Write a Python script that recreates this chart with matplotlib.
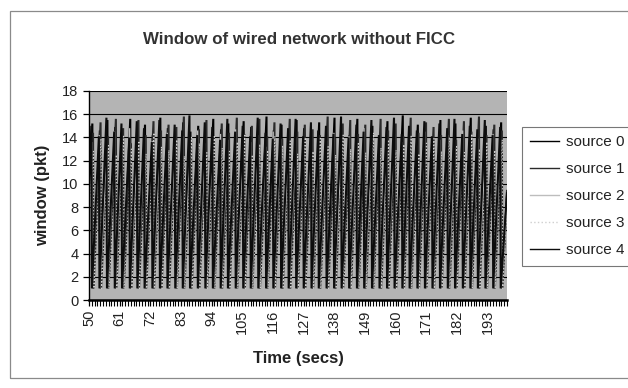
import matplotlib.pyplot as plt
from matplotlib.patches import Rectangle

plt.rcParams["font.family"] = ["Liberation Sans", "DejaVu Sans"]

# times (secs) where the five synchronised TCP windows collapse back to 1 pkt
drops = [51.2, 53.9, 56.6, 59.4, 62.0, 64.8, 67.5, 70.1, 72.9, 75.6, 78.3,
         81.1, 83.8, 86.4, 89.2, 91.9, 94.6, 97.4, 100.0, 102.8, 105.5, 108.2,
         110.9, 113.7, 116.3, 119.1, 121.8, 124.5, 127.2, 130.0, 132.6, 135.4, 138.1,
         140.8, 143.5, 146.3, 148.9, 151.7, 154.4, 157.1, 159.8, 162.6, 165.2,
         168.0, 170.7, 173.4, 176.1, 178.9, 181.5, 184.3, 187.0, 189.7, 192.4,
         195.2, 197.9]

# per-source lag of the drop (secs)
lag = [0.0, 0.25, -0.2, 0.4, -0.35]

# window just before each drop (pkt)
peak0 = [15.2, 14.6, 15.5, 14.9, 13.8, 15.6, 14.4, 15.1, 14.2, 15.7, 14.8,
         13.9, 15.3, 14.5, 15.0, 14.1, 15.6, 14.7, 15.2, 13.7, 15.4, 14.9,
         14.3, 15.8, 14.6, 15.1, 14.0, 15.5, 14.8, 13.9, 15.3, 14.4, 15.7,
         14.9, 14.2, 15.6, 14.7, 15.0, 13.8, 15.4, 14.5, 15.9, 14.3, 15.1,
         14.8, 13.6, 15.5, 14.6, 15.2, 14.0, 15.7, 14.4, 15.0, 14.7, 15.3]
peak1 = [14.4, 15.3, 14.1, 15.6, 14.8, 13.5, 15.5, 14.2, 15.4, 14.6, 15.1,
         14.9, 15.8, 13.8, 14.7, 15.5, 14.0, 15.2, 14.4, 15.7, 14.3, 15.0,
         15.6, 14.1, 15.3, 13.9, 15.6, 14.5, 15.1, 14.7, 14.2, 15.8, 14.0,
         15.2, 15.5, 14.3, 15.1, 13.9, 15.6, 14.6, 15.2, 14.1, 15.7, 14.4,
         15.3, 14.9, 14.2, 15.6, 13.8, 15.4, 14.5, 15.8, 14.2, 15.1, 14.6]
peak2 = [13.6, 14.2, 12.9, 14.5, 13.4, 14.8, 13.1, 14.0, 13.7, 12.8, 14.4,
         13.3, 14.1, 12.7, 14.6, 13.5, 13.0, 14.3, 13.8, 14.7, 12.9, 13.6,
         14.2, 13.2, 14.5, 13.9, 12.8, 14.0, 13.4, 14.6, 13.1, 13.7, 14.4,
         12.9, 14.1, 13.5, 14.8, 13.2, 13.9, 12.7, 14.3, 13.6, 14.0, 13.3,
         14.5, 12.9, 13.8, 14.2, 13.1, 14.6, 13.4, 13.9, 12.8, 14.3, 13.7]
peak3 = [12.8, 13.9, 13.3, 12.5, 14.1, 13.0, 13.7, 12.6, 14.4, 13.2, 12.9,
         13.8, 12.4, 14.0, 13.5, 12.7, 14.2, 13.1, 12.8, 13.6, 14.3, 12.5,
         13.4, 12.9, 14.1, 13.3, 13.7, 12.6, 14.0, 12.8, 13.9, 13.2, 12.5,
         14.2, 13.0, 13.6, 12.7, 14.4, 13.1, 13.8, 12.9, 13.4, 14.1, 12.6,
         13.5, 13.9, 12.8, 14.0, 13.2, 12.7, 14.3, 13.0, 13.6, 12.9, 13.8]
peak4 = [15.0, 14.1, 15.7, 14.5, 15.2, 14.0, 15.4, 14.8, 13.6, 15.5, 14.3,
         15.1, 14.6, 15.9, 14.2, 15.3, 14.9, 13.8, 15.6, 14.5, 15.0, 14.1,
         15.7, 14.4, 13.9, 15.2, 14.8, 15.6, 14.1, 15.3, 14.6, 15.0, 14.3,
         15.8, 14.0, 15.1, 14.5, 15.5, 14.2, 14.9, 15.7, 14.3, 15.0, 14.6,
         15.4, 14.1, 15.2, 14.8, 15.6, 14.3, 15.0, 14.7, 15.5, 14.2, 14.9]

# window at the left edge (t=50) and right edge (t=200)
start = [9.5, 8.8, 8.0, 7.6, 9.9]
end = [8.9, 9.4, 7.9, 8.3, 9.2]

sources = ["source 0", "source 1", "source 2", "source 3", "source 4"]
peaks = [peak0, peak1, peak2, peak3, peak4]
colors = ["#000000", "#2a2a2a", "#bdbdbd", "#cfcfcf", "#0d0d0d"]
widths = [1.5, 1.5, 0.9, 0.9, 1.5]
styles = ["-", "-", "-", ":", "-"]

xtick_vals = [50, 61, 72, 83, 94, 105, 116, 127, 138, 149, 160, 171, 182, 193]

fig = plt.figure(figsize=(6.28, 3.88), dpi=100)
ax = fig.add_axes([89 / 628, 1 - 300 / 388, 418 / 628, 209 / 388])
ax.set_facecolor("#b4b4b4")

# outer chart frame, running off the right edge
fig.patches.append(Rectangle((10 / 628, 1 - 378 / 388), 640 / 628, 367 / 388,
                             transform=fig.transFigure, fill=False,
                             edgecolor="#8a8a8a", linewidth=0.9))

for name, pk, lg, col, lw, ls, s0, s1 in zip(sources, peaks, lag, colors, widths,
                                             styles, start, end):
    xs = [50.0]
    ys = [s0]
    for t, p in zip(drops, pk):
        xs += [t + lg, t + lg + 0.2]
        ys += [p, 1.0]
    xs.append(200.0)
    ys.append(s1)
    ax.plot(xs, ys, color=col, linewidth=lw, linestyle=ls, label=name,
            solid_joinstyle="miter")

ax.set_xlim(50, 200)
ax.set_ylim(0, 18)
ax.set_yticks(range(0, 19, 2))
ax.set_xticks(xtick_vals)
ax.set_xticks(range(50, 201), minor=True)
ax.set_xticklabels([str(v) for v in xtick_vals], rotation=90)
ax.yaxis.grid(True, color="black", linewidth=0.8)
ax.set_axisbelow(True)

for side in ["top", "right"]:
    ax.spines[side].set_visible(False)
ax.spines["left"].set_linewidth(1.0)
ax.spines["bottom"].set_linewidth(1.8)
ax.tick_params(axis="both", which="major", direction="out", length=4, width=0.9,
               labelsize=10.5, colors="black", labelcolor="#222222")
ax.tick_params(axis="x", which="minor", direction="out", length=4, width=0.8)
ax.tick_params(axis="x", which="major", pad=3)

ax.set_ylabel("window (pkt)", fontsize=12, fontweight="bold", color="#222222", labelpad=9)
ax.set_xlabel("Time (secs)", fontsize=12, fontweight="bold", color="#222222", labelpad=12)
fig.text(299 / 628, 1 - 40 / 388, "Window of wired network without FICC",
         ha="center", va="center", fontsize=12.2, fontweight="bold", color="#333333")

leg = ax.legend(loc="upper left", bbox_to_anchor=(522 / 628, 1 - 127 / 388),
                bbox_transform=fig.transFigure, fontsize=11, frameon=True,
                fancybox=False, edgecolor="#555555", handlelength=1.9,
                handletextpad=0.4, labelspacing=0.85, borderpad=0.55,
                borderaxespad=0, labelcolor="#222222")
leg.get_frame().set_linewidth(0.8)
for h in leg.get_lines():
    h.set_linewidth(1.0)

fig.savefig("out.png", dpi=100)
